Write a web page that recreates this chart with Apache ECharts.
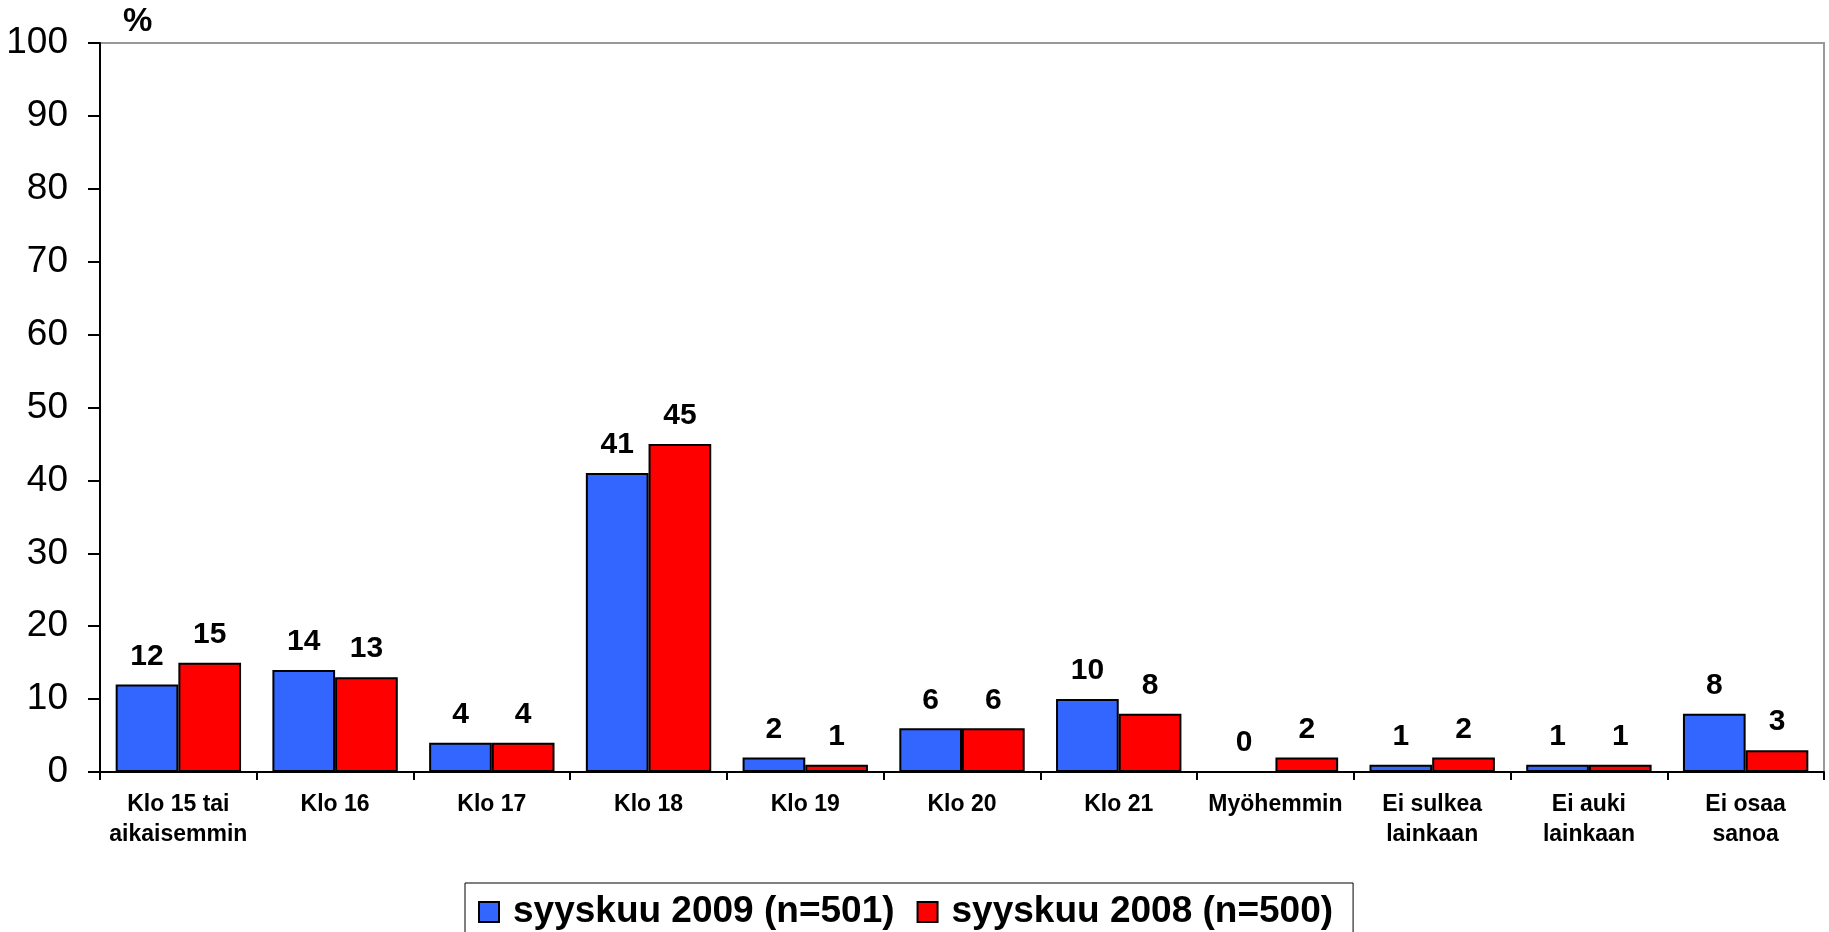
<!DOCTYPE html>
<html>
<head>
<meta charset="utf-8">
<script src="https://cdn.jsdelivr.net/npm/echarts@6/dist/echarts.min.js"></script>
<style>html,body{margin:0;padding:0;background:#fff}#c{width:1829px;height:932px}</style>
</head>
<body>
<div id="c"></div>
<script>
const categories = ['Klo 15 tai\naikaisemmin','Klo 16','Klo 17','Klo 18','Klo 19','Klo 20','Klo 21','Myöhemmin','Ei sulkea\nlainkaan','Ei auki\nlainkaan','Ei osaa\nsanoa'];
const series2009 = [12,14,4,41,2,6,10,0,1,1,8];
const series2008 = [15,13,4,45,1,6,8,2,2,1,3];
const yTicks = [0,10,20,30,40,50,60,70,80,90,100];
const seriesNames = ['syyskuu 2009 (n=501)','syyskuu 2008 (n=500)'];

const chart = echarts.init(document.getElementById('c'), null, {renderer:'canvas'});
const font = 'Liberation Sans, Arial, sans-serif';
const labelCfg = {show:true, position:'top', distance:13, color:'#000', fontFamily:font, fontWeight:'bold', fontSize:30};
chart.setOption({
  animation:false,
  backgroundColor:'#fff',
  grid:{left:100, top:43, right:5, bottom:160, show:true, borderColor:'#999', borderWidth:2, backgroundColor:'transparent'},
  graphic:[{type:'text', left:123, top:5, style:{text:'%', font:'bold 33px '+font, fill:'#000'}}],
  legend:{
    left:465, top:883, orient:'horizontal',
    padding:[10,20,20,13],
    borderColor:'#000', borderWidth:1,
    icon:'rect',
    itemWidth:20, itemHeight:20, itemGap:22,
    textStyle:{fontFamily:font, fontWeight:'bold', fontSize:37, lineHeight:38, color:'#000', padding:[0,0,0,9]},
    data:seriesNames
  },
  xAxis:{
    type:'category', data:categories,
    axisLine:{lineStyle:{color:'#000', width:2}},
    axisTick:{show:true, length:8, lineStyle:{color:'#000', width:2}},
    axisLabel:{color:'#000', fontFamily:font, fontWeight:'bold', fontSize:23, lineHeight:30, margin:18, interval:0}
  },
  yAxis:{
    type:'value', min:0, max:100, interval:10,
    axisLine:{show:true, lineStyle:{color:'#000', width:2}},
    axisTick:{show:true, length:12, lineStyle:{color:'#000', width:2}},
    splitLine:{show:false},
    axisLabel:{color:'#000', fontFamily:font, fontSize:37, margin:32,
      formatter:function(v){return yTicks.indexOf(v)>=0 ? String(v) : '';}}
  },
  series:[
    {name:seriesNames[0], type:'bar', data:series2009, barGap:'0%', barCategoryGap:'20%',
      itemStyle:{color:'#3366FF', borderColor:'#000', borderWidth:2}, label:labelCfg},
    {name:seriesNames[1], type:'bar', data:series2008, barGap:'0%', barCategoryGap:'20%',
      itemStyle:{color:'#FF0000', borderColor:'#000', borderWidth:2}, label:labelCfg}
  ]
});
</script>
</body>
</html>
